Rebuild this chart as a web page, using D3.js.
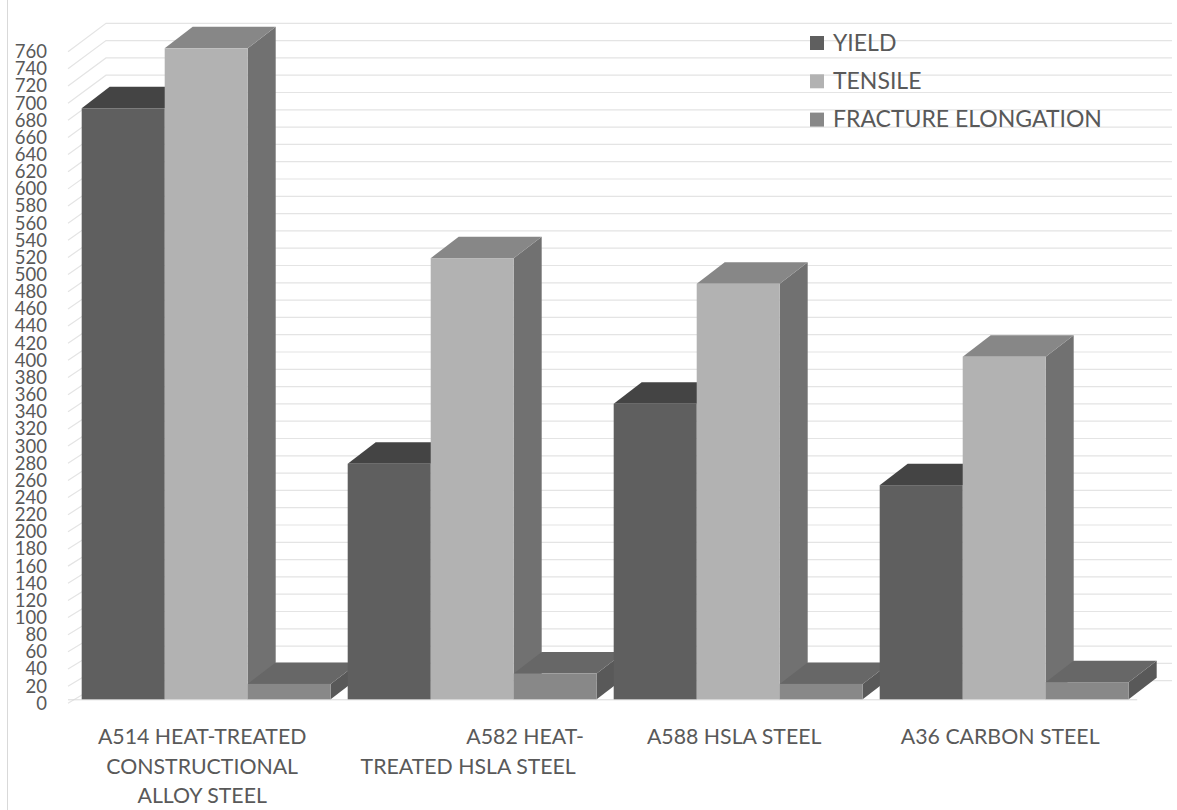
<!DOCTYPE html>
<html lang="en">
<head>
    <meta charset="UTF-8">
    <title>Steel grades</title>
    <script src="https://d3js.org/d3.v7.min.js"></script>
    <style>
        body { margin: 0; background: #fff; }
        text { font-family: Lato, "Open Sans", sans-serif; fill: #595959; }
    </style>
</head>
<body>
    <div id="chart"></div>
    <script>
        // data
        const categories = ["A514", "A582", "A588", "A36"];
        const categoryLines = [
            ["A514 HEAT-TREATED", "CONSTRUCTIONAL", "ALLOY STEEL"],
            ["\u00A0".repeat(21) + "A582 HEAT-", "TREATED HSLA STEEL"],
            ["A588 HSLA STEEL"],
            ["A36 CARBON STEEL"]
        ];
        const seriesNames = ["YIELD", "TENSILE", "FRACTURE ELONGATION"];
        const yieldValues = [690, 275, 345, 250];
        const tensileValues = [760, 515, 485, 400];
        const elongationValues = [18, 30, 18, 20];
        const yTicks = d3.range(0, 761, 20);

        const width = 1177, height = 810;

        // face colours per series: front, top, side
        const faces = {
            "YIELD": ["#5f5f5f", "#444444", "#4e4e4e"],
            "TENSILE": ["#b2b2b2", "#878787", "#717171"],
            "FRACTURE ELONGATION": ["#888888", "#676767", "#595959"]
        };

        const svg = d3.select("#chart")
            .append("svg")
            .attr("width", width)
            .attr("height", height);

        // chart border (only the left edge shows)
        svg.append("line")
            .attr("x1", 7.5).attr("x2", 7.5)
            .attr("y1", 0).attr("y2", height)
            .attr("stroke", "#d9d9d9");

        // scales: front plane of the bars, front edge and back wall of the box
        const y = d3.scaleLinear().domain([0, 760]).range([699.3, 48.3]);
        const yWall = d3.scaleLinear().domain([0, 760]).range([703.3, 51.7]);
        const yBack = d3.scaleLinear().domain([0, 760]).range([680.7, 23.3]);
        const wallFront = 68, wallBack = 106, wallRight = 1172;
        const depthX = 28, depthY = -21.5;

        const x0 = d3.scaleBand()
            .domain(categories)
            .range([73.2, 1137.2])
            .paddingInner(17 / 266)
            .paddingOuter(8.5 / 266);
        const x1 = d3.scaleBand()
            .domain(seriesNames)
            .range([0, x0.bandwidth()]);

        // gridlines on the left wall and the back wall
        svg.append("g")
            .selectAll("polyline")
            .data(yTicks)
            .join("polyline")
            .attr("points", d => `${wallFront},${yWall(d)} ${wallBack},${yBack(d)} ${wallRight},${yBack(d)}`)
            .attr("fill", "none")
            .attr("stroke", "#e4e4e4")
            .attr("stroke-width", 1.2);

        // floor front edge
        svg.append("line")
            .attr("x1", wallFront).attr("x2", x0.range()[1])
            .attr("y1", y(0) + 0.5).attr("y2", y(0) + 0.5)
            .attr("stroke", "#d9d9d9");

        // y axis labels
        const yAxis = svg.append("g")
            .attr("transform", "translate(47,0)")
            .call(d3.axisLeft(yWall).tickValues(yTicks).tickSize(0).tickPadding(0));
        yAxis.select(".domain").remove();
        yAxis.selectAll("text")
            .style("font-size", "18.5px")
            .style("font-family", "Lato, sans-serif")
            .attr("fill", "#595959");

        // bars, left to right so each front face covers the side face before it
        const bars = [];
        categories.forEach((c, i) => {
            [yieldValues, tensileValues, elongationValues].forEach((vals, s) => {
                bars.push({ cat: c, series: seriesNames[s], value: vals[i] });
            });
        });

        svg.append("g")
            .selectAll("g")
            .data(bars)
            .join("g")
            .each(function (d) {
                const g = d3.select(this);
                const xl = x0(d.cat) + x1(d.series);
                const xr = xl + x1.bandwidth();
                const yt = y(d.value), yb = y(0);
                const col = faces[d.series];
                // side
                g.append("polygon")
                    .attr("points", [[xr, yb], [xr + depthX, yb + depthY], [xr + depthX, yt + depthY], [xr, yt]].join(" "))
                    .attr("fill", col[2]);
                // top
                g.append("polygon")
                    .attr("points", [[xl, yt], [xl + depthX, yt + depthY], [xr + depthX, yt + depthY], [xr, yt]].join(" "))
                    .attr("fill", col[1]);
                // front
                g.append("rect")
                    .attr("x", xl).attr("y", yt)
                    .attr("width", xr - xl).attr("height", yb - yt)
                    .attr("fill", col[0]);
            });

        // category labels
        const labelX = d => x0(d) + x0.bandwidth() / 2 - 4;
        const xLabels = svg.append("g")
            .selectAll("text")
            .data(categories)
            .join("text")
            .attr("x", labelX)
            .attr("y", 744)
            .attr("text-anchor", "middle")
            .style("font-size", "21.3px")
            .style("white-space", "pre");
        xLabels.selectAll("tspan")
            .data((d, i) => categoryLines[i].map(t => ({ t, x: labelX(d) })))
            .join("tspan")
            .attr("x", d => d.x)
            .attr("dy", (d, j) => j === 0 ? 0 : 29.7)
            .text(d => d.t);

        // legend
        const legend = svg.append("g")
            .selectAll("g")
            .data(seriesNames)
            .join("g")
            .attr("transform", (d, i) => `translate(810,${42.5 + i * 38.3})`);
        legend.append("rect")
            .attr("x", 0).attr("y", -6.5)
            .attr("width", 14).attr("height", 14)
            .attr("fill", d => faces[d][0]);
        legend.append("text")
            .attr("x", 23)
            .attr("y", 8)
            .style("font-size", "23px")
            .text(d => d);
    </script>
</body>
</html>
